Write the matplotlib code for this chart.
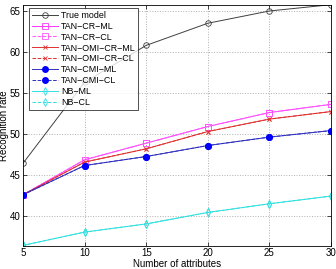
import matplotlib
matplotlib.use("Agg")
import matplotlib.pyplot as plt

plt.rcParams['font.family'] = ['Liberation Sans', 'DejaVu Sans']

attributes = [5, 10, 15, 20, 25, 30]
true_model = [46.4, 56.3, 60.8, 63.5, 65.0, 65.77]
tan_cr_ml = [42.56, 46.83, 48.86, 50.89, 52.6, 53.6]
tan_cr_cl = [42.56, 46.83, 48.86, 50.89, 52.6, 53.6]
tan_omi_cr_ml = [42.56, 46.55, 48.17, 50.28, 51.8, 52.72]
tan_omi_cr_cl = [42.56, 46.55, 48.17, 50.28, 51.8, 52.72]
tan_cmi_ml = [42.56, 46.13, 47.23, 48.57, 49.6, 50.4]
tan_cmi_cl = [42.56, 46.13, 47.23, 48.57, 49.6, 50.4]
nb_ml = [36.38, 38.0, 39.0, 40.4, 41.46, 42.4]
nb_cl = [36.38, 38.0, 39.0, 40.4, 41.46, 42.4]

fig = plt.figure(figsize=(3.36, 2.69), dpi=100)
ax = fig.add_axes([23/336, 1 - 245.7/269, (331 - 23)/336, (245.7 - 5)/269])

lw = 0.7
ms = 4
ax.plot(attributes, true_model, '-', color='#404040', lw=lw, marker='o', ms=ms, mfc='none', mec='#404040', mew=0.6, label='True model')
ax.plot(attributes, tan_cr_ml, '-', color='#ff33ff', lw=lw, marker='s', ms=ms, mfc='none', mew=0.6, label='TAN\u2212CR\u2212ML')
ax.plot(attributes, tan_cr_cl, '--', color='#ff55ff', lw=lw, marker='s', ms=ms, mfc='none', mew=0.6, label='TAN\u2212CR\u2212CL')
ax.plot(attributes, tan_omi_cr_ml, '-', color='#e03030', lw=lw, marker='x', ms=3, mew=0.6, label='TAN\u2212OMI\u2212CR\u2212ML')
ax.plot(attributes, tan_omi_cr_cl, '--', color='#e03030', lw=lw, marker='x', ms=3, mew=0.6, label='TAN\u2212OMI\u2212CR\u2212CL')
ax.plot(attributes, tan_cmi_ml, '-', color='#3030c0', lw=lw, marker='o', ms=ms, mfc='#0000ff', mec='#0000ff', label='TAN\u2212CMI\u2212ML')
ax.plot(attributes, tan_cmi_cl, '--', color='#3030c0', lw=lw, marker='o', ms=ms, mfc='#0000ff', mec='#0000ff', label='TAN\u2212CMI\u2212CL')
ax.plot(attributes, nb_ml, '-', color='#30e0e0', lw=lw, marker='d', ms=ms, mfc='none', mew=0.6, label='NB\u2212ML')
ax.plot(attributes, nb_cl, '--', color='#30e0e0', lw=lw, marker='d', ms=ms, mfc='none', mew=0.6, label='NB\u2212CL')

ax.set_xlim(5, 30)
ax.set_ylim(36.34, 65.73)
ax.set_xticks([5, 10, 15, 20, 25, 30])
ax.set_yticks([40, 45, 50, 55, 60, 65])
ax.tick_params(direction='in', labelsize=7, length=3, width=0.5, top=True, right=True, pad=2)
ax.grid(True, linestyle=':', color='#b0b0b0', lw=0.7)
for s in ax.spines.values():
    s.set_linewidth(0.6)
ax.set_xlabel('Number of attributes', fontsize=7, labelpad=1)
ax.set_ylabel('Recognition rate', fontsize=7)
ax.yaxis.set_label_coords(-19 / 308, 0.5)
ax.xaxis.set_label_coords(0.5, -(264 - 245.7) / 240.7)
ax.xaxis.label.set_va('center')
ax.yaxis.label.set_va('center')

leg = ax.legend(loc='upper left', bbox_to_anchor=((29 - 23) / 308, 1 - (8 - 5) / 240.7),
                fontsize=6.4, frameon=True, fancybox=False, edgecolor='black',
                borderpad=0.3, labelspacing=0.22, handlelength=3.0, handletextpad=0.3,
                borderaxespad=0.0)
leg.get_frame().set_linewidth(0.6)

fig.savefig('out.png', dpi=100)
